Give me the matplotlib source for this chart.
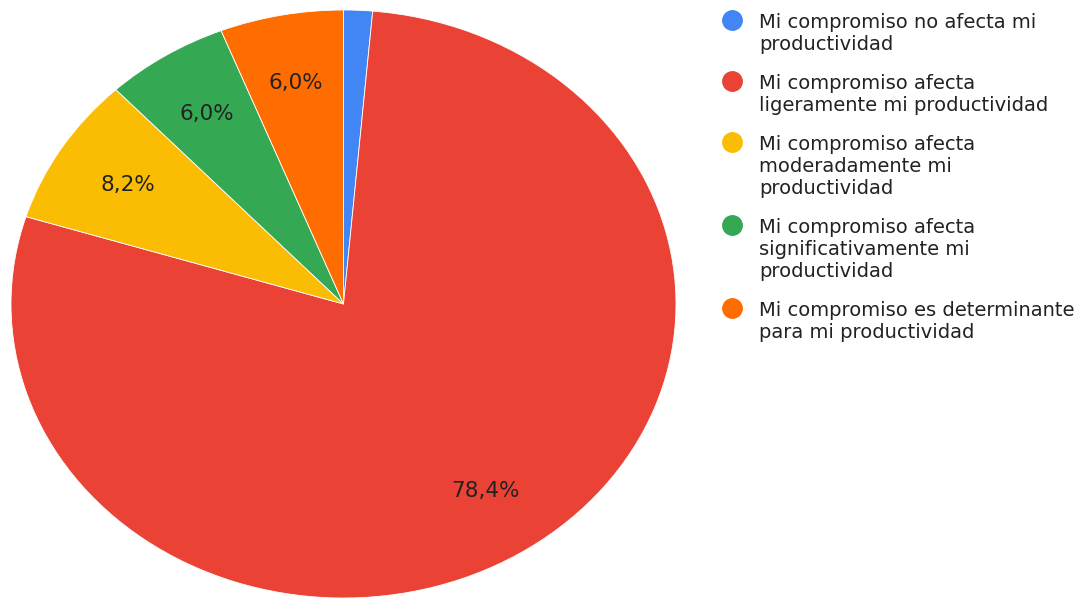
import matplotlib.pyplot as plt

# survey answers, in drawing order (clockwise from 12 o'clock)
labels = [
    "Mi compromiso no afecta mi\nproductividad",
    "Mi compromiso afecta\nligeramente mi productividad",
    "Mi compromiso afecta\nmoderadamente mi\nproductividad",
    "Mi compromiso afecta\nsignificativamente mi\nproductividad",
    "Mi compromiso es determinante\npara mi productividad",
]
shares = [1.4, 78.4, 8.2, 6.0, 6.0]
colors = ["#4285F4", "#EA4335", "#FBBC04", "#34A853", "#FF6D01"]

W, H = 1082, 599
fig = plt.figure(figsize=(W / 100, H / 100), dpi=100)

# pie is stretched horizontally, so use an axes with free aspect
ax = fig.add_axes([11 / W, 1 / H, 665 / W, 588 / H])


def pct_label(p):
    if p < 5:
        return ""
    return f"{p:.1f}".replace(".", ",") + "%"


wedges, _, autotexts = ax.pie(
    shares,
    colors=colors,
    startangle=90,
    counterclock=False,
    autopct=pct_label,
    pctdistance=0.765,
    wedgeprops=dict(edgecolor="white", linewidth=0.6),
    textprops=dict(fontsize=15.5, color="#222222", family="DejaVu Sans"),
)
ax.set_aspect("auto")
ax.set_xlim(-1, 1)
ax.set_ylim(-1, 1)
ax.axis("off")

# legend drawn by hand: dot + wrapped text lines
baseline = 28
for lab, col in zip(labels, colors):
    lines = lab.split("\n")
    fig.lines.append(
        plt.Line2D([732 / W], [1 - (baseline - 8) / H], marker="o",
                   markersize=14, color=col, transform=fig.transFigure)
    )
    for ln in lines:
        fig.text(759 / W, 1 - baseline / H, ln, fontsize=14,
                 family="DejaVu Sans", color="#222222", va="baseline")
        baseline += 22
    baseline += 17

fig.savefig("out.png", dpi=100)
